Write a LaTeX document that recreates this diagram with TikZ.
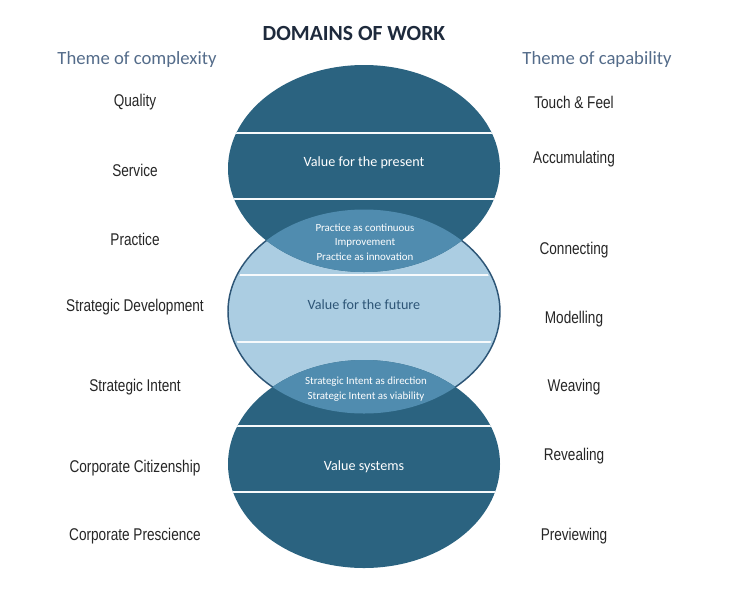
\documentclass[tikz,border=0pt]{standalone}
\usepackage{fontspec}
\setmainfont{Carlito}
\newfontfamily\narrowfont[FakeStretch=0.8]{Liberation Sans}
\definecolor{darkteal}{RGB}{43,99,128}
\definecolor{lensteal}{RGB}{80,140,175}
\definecolor{lightteal}{RGB}{171,205,226}
\definecolor{rimblue}{RGB}{45,85,118}
\definecolor{themegray}{RGB}{84,108,138}
\definecolor{titlenavy}{RGB}{30,42,60}
\tikzset{
    theme/.style={font=\fontsize{14}{16}\selectfont, text=themegray},
    item/.style={font=\narrowfont\fontsize{12.75}{14}\selectfont, text=black!85},
    value/.style={font=\fontsize{10.6}{12}\selectfont, text=white},
    lens/.style={font=\fontsize{8.2}{10.9}\selectfont, text=white, align=center},
    band/.style={draw=white!90!lightteal, line width=1.5pt}
}
\begin{document}
\begin{tikzpicture}[x=0.75pt,y=-0.75pt]
        \useasboundingbox (0,0) rectangle (737,589);

        % Draw the three ellipses
        \coordinate (top) at (364,168.5);
        \coordinate (mid) at (364,311.5);
        \coordinate (bot) at (364,464);
        \draw[rimblue, line width=1.1pt, fill=lightteal] (mid) ellipse [x radius=136, y radius=102];
        \fill[darkteal] (top) ellipse [x radius=136, y radius=103.5];
        \fill[darkteal] (bot) ellipse [x radius=136, y radius=104];
        \begin{scope}
            \clip (mid) ellipse [x radius=136, y radius=102];
            \fill[lensteal] (top) ellipse [x radius=136, y radius=103.5];
            \fill[lensteal] (bot) ellipse [x radius=136, y radius=104];
        \end{scope}

        % White bands across each ellipse
        \begin{scope}
            \clip (top) ellipse [x radius=136, y radius=103.5];
            \foreach \y in {133, 199} {
                \draw[band] (220,\y) -- (510,\y);
            }
        \end{scope}
        \begin{scope}
            \clip (mid) ellipse [x radius=133, y radius=102];
            \foreach \y in {275, 342} {
                \draw[band] (220,\y) -- (510,\y);
            }
        \end{scope}
        \begin{scope}
            \clip (bot) ellipse [x radius=136, y radius=104];
            \foreach \y in {426, 492} {
                \draw[band] (220,\y) -- (510,\y);
            }
        \end{scope}

        % Titles
        \node (title) at (354,33) {\fontsize{16.2}{18}\selectfont\bfseries\color{titlenavy}DOMAINS OF WORK};
        \node[theme] (complexity) at (137,59.5) {Theme of complexity};
        \node[theme] (capability) at (597,59.5) {Theme of capability};

        % Texts inside the ellipses
        \node[value] (present) at (364,163) {Value for the present};
        \node[lens] (practice) at (365,242) {Practice as continuous\\Improvement\\Practice as innovation};
        \node[value, text=rimblue] (future) at (364,305) {Value for the future};
        \node[lens] (intent) at (366,389) {Strategic Intent as direction\\Strategic Intent as viability};
        \node[value] (systems) at (364,467) {Value systems};

        % Left column
        \foreach \y/\label [count=\i] in {102/Quality, 170/Service, 239/Practice, 307/Strategic Development, 387/Strategic Intent, 468/Corporate Citizenship, 536/Corporate Prescience} {
            \node[item] (left\i) at (135,\y) {\label};
        }

        % Right column
        \foreach \y/\label [count=\i] in {102/Touch \& Feel, 159/Accumulating, 250/Connecting, 319/Modelling, 387/Weaving, 456/Revealing, 536/Previewing} {
            \node[item] (right\i) at (574,\y) {\label};
        }
        \end{tikzpicture}
\end{document}
